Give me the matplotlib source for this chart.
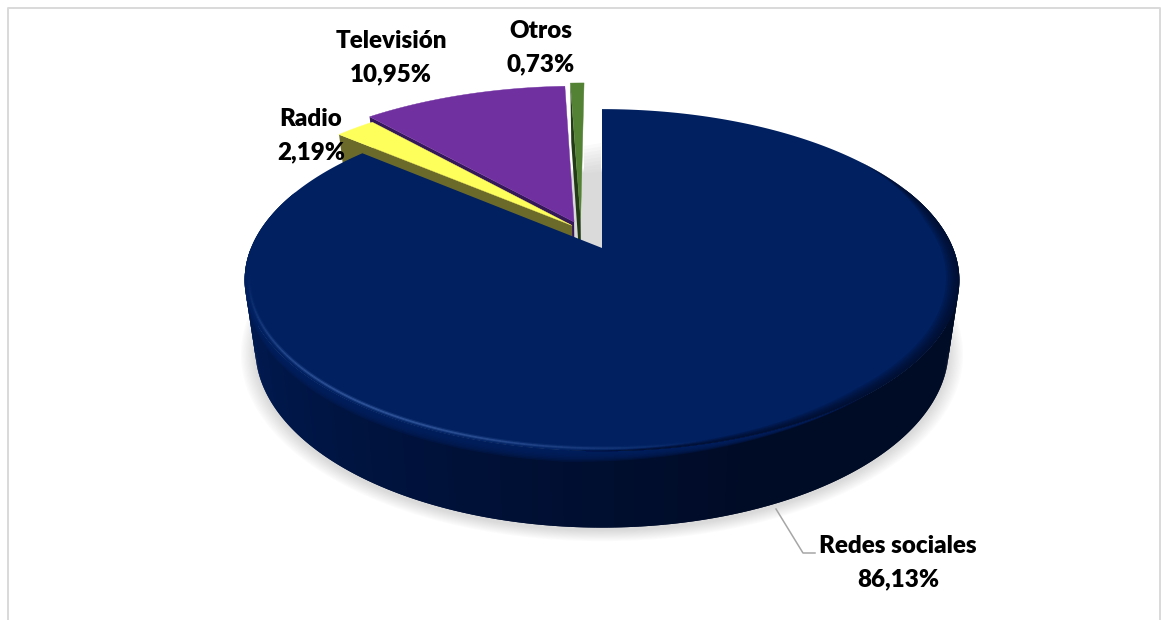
"""3D style exploded pie chart of information sources, drawn with polygons."""

import numpy as np
import matplotlib
matplotlib.use("Agg")  # No screen needed
import matplotlib.pyplot as plt
from matplotlib.collections import LineCollection
from matplotlib.colors import to_rgb

categories = ["Redes sociales", "Radio", "Televisión", "Otros"]
shares = [86.13, 2.19, 10.95, 0.73]

top_colors = ["#002060", "#FFFF5B", "#7030A0", "#548235"]
cut_colors = ["#001448", "#6B6A2B", "#35185A", "#233A16"]

# Slice shift on the pie disk (right, back) and radius relative to the main slice
slice_shift = [(0.0, 0.0), (-0.0875, 0.14), (-0.082, 0.163), (-0.063, 0.182)]
slice_radius = [1.0, 1.01, 1.04, 1.05]

# Perspective of the disk on the canvas
APEX_X, APEX_Y = 602, 248
SCALE_X, SCALE_Y, TILT = 351, 165, 0.188
DEPTH = 67
BOTTOM_SHRINK = 0.97


def project(u, v, z=0.0):
    """Map disk coordinates and depth z (0 top, 1 bottom) to canvas pixels."""
    u, v = np.asarray(u, float), np.asarray(v, float)
    s = 1 / (1 + TILT * v)
    k = 1 - (1 - BOTTOM_SHRINK) * z
    return APEX_X + SCALE_X * u * s * k, APEX_Y - SCALE_Y * v * s * k + DEPTH * s * z


def mix(a, b, t):
    a, b = np.array(to_rgb(a)), np.array(to_rgb(b))
    return tuple(a + (b - a) * np.clip(t, 0, 1))


def wall_color(deg):
    """Colour of the main slice's outer wall; darkens from left to right."""
    deg = deg % 360
    t = 1.0 if deg < 90 else (deg - 180) / 110
    return mix("#001C58", "#000B26", t)


def polar(theta, radius, shift):
    return shift[0] + radius * np.cos(theta), shift[1] + radius * np.sin(theta)


def draw_soft_shadow(ax):
    """Stack of translucent disks beneath the pie."""
    theta = np.linspace(0, 2 * np.pi, 300)
    for i in range(12):
        grow = 1.04 - i * 0.0035
        px, py = project(grow * np.cos(theta), grow * np.sin(theta), 1)
        ax.fill(px, py + 3, color="#7f7f7f", alpha=0.025, lw=0, zorder=1)
    # Fade above the disk, in the gap beside the main slice
    for i in range(7):
        ax.fill([584, 601, 601, 584], [146 + i * 3.5, 143 + i * 3.5, 168 + i * 0.7, 168 + i * 0.7],
                color="#7f7f7f", alpha=0.035, lw=0, zorder=1)


def draw_small_slice(ax, start, end, idx, zorder):
    shift, radius = slice_shift[idx], slice_radius[idx]
    apex = project(shift[0], shift[1])
    apex_low = project(shift[0], shift[1], 1)
    # Cut face along the slice's counter-clockwise edge, then the top
    cx, cy = polar(end, radius, shift)
    tx, ty = project(cx, cy)
    bx, by = project(cx, cy, 1)
    ax.fill([apex[0], tx, bx, apex_low[0]], [apex[1], ty, by, apex_low[1]],
            color=cut_colors[idx], lw=0, zorder=zorder)
    angles = np.linspace(start, end, 40)
    ux, uy = polar(angles, radius, shift)
    px, py = project(ux, uy)
    ax.fill(np.r_[apex[0], px], np.r_[apex[1], py], color=top_colors[idx], lw=0.3, zorder=zorder + 0.1)


def draw_main_slice(ax, start, end):
    angles = np.linspace(start, end, 361)
    u, v = np.cos(angles), np.sin(angles)
    deg = np.degrees(angles) % 360
    off = np.where(deg < 180, deg + 360, deg)
    # 0 on the left and front of the rim, 1 on its right part
    taper = np.clip((off - 265) / 45, 0, 1) * np.clip((395 - off) / 25, 0, 1)

    # Outer wall: overlapping columns, each one painted over the last
    for j in range(len(angles) - 2):
        if v[j] > 0.35 and v[j + 1] > 0.35:
            continue  # hidden behind the top face
        xa, ya = project(u[j:j + 3], v[j:j + 3], 0)
        xb, yb = project(u[j:j + 3], v[j:j + 3], 1)
        ax.fill(np.r_[xa, xb[::-1]], np.r_[ya, yb[::-1]], color=wall_color(np.degrees(angles[j])),
                lw=0, zorder=5)

    # Top colour bleeding into the upper wall, only where the rim is not darkened
    visible = (v < 0.35) & (off < 330)
    for a in np.linspace(0.15, 0.015, 8):
        depth = a * (1 - taper[visible])
        xa, ya = project(u[visible], v[visible], 0)
        xb, yb = project(u[visible], v[visible], depth)
        ax.fill(np.r_[xa, xb[::-1]], np.r_[ya, yb[::-1]], color=top_colors[0], alpha=0.28, lw=0, zorder=5.5)

    px, py = project(u, v)
    ax.fill(np.r_[APEX_X, px], np.r_[APEX_Y, py], color=top_colors[0], lw=0, zorder=6)

    # Dark rounding along the right part of the rim, tapered at both ends
    right = (deg > 265) | (deg < 35)
    order = np.argsort(off[right])
    for frac in np.linspace(1.0, 0.15, 7):
        inner = 1 - 0.036 * frac * taper
        xa, ya = project(u[right], v[right])
        xb, yb = project(inner[right] * u[right], inner[right] * v[right])
        ax.fill(np.r_[xa[order], xb[order][::-1]], np.r_[ya[order], yb[order][::-1]],
                color="#000B26", alpha=0.17, lw=0, zorder=7)

    # Light bevel along the left and front of the rim, strongest near the front
    mask = (deg > 185) & (deg < 288)
    x, y = project(0.988 * u[mask], 0.988 * v[mask])
    pts = np.column_stack([x, y])
    segs = np.stack([pts[:-1], pts[1:]], axis=1)
    glow = np.sin(np.radians((deg[mask][:-1] - 185) / 103 * 180)) ** 1.5
    for width, strength in [(3.0, 0.22), (1.3, 0.5)]:
        rgba = np.tile(np.r_[to_rgb("#4A70B8"), 0.0], (len(segs), 1))
        rgba[:, 3] = glow * strength
        ax.add_collection(LineCollection(segs, colors=rgba, linewidths=width, zorder=8))


fig = plt.figure(figsize=(11.61, 6.2), dpi=100)
ax = fig.add_axes([0, 0, 1, 1])
ax.set_xlim(0, 1161)
ax.set_ylim(620, 0)
ax.axis("off")

# Chart frame, open at the bottom
ax.plot([8, 8, 1160, 1160], [620, 8, 8, 620], color="#D9D9D9", lw=1.4, zorder=0)

draw_soft_shadow(ax)

# Slices run clockwise from twelve o'clock
edges = np.pi / 2 - 2 * np.pi * np.cumsum(np.r_[0, shares]) / sum(shares)
draw_small_slice(ax, edges[4], edges[3], 3, 2)
draw_small_slice(ax, edges[3], edges[2], 2, 3)
draw_small_slice(ax, edges[2], edges[1], 1, 4)
draw_main_slice(ax, edges[1], edges[0])

# Leader line for the main slice
ax.plot([776, 803, 815], [509, 553, 553], color="#A6A6A6", lw=1.1, zorder=9)

label_pos = [(898, 546, 579), (311, 119, 152), (391, 41, 74), (541, 31, 64)]
for name, share, (lx, y1, y2) in zip(categories, shares, label_pos):
    pct = f"{share:.2f}%".replace(".", ",")
    ax.text(lx, y1, name, ha="center", va="center", family="Lato", weight="heavy", fontsize=17.4, color="black", zorder=10)
    ax.text(lx, y2, pct, ha="center", va="center", family="Lato", weight="heavy", fontsize=17.4, color="black", zorder=10)

fig.savefig("out.png", dpi=100)
plt.close(fig)
